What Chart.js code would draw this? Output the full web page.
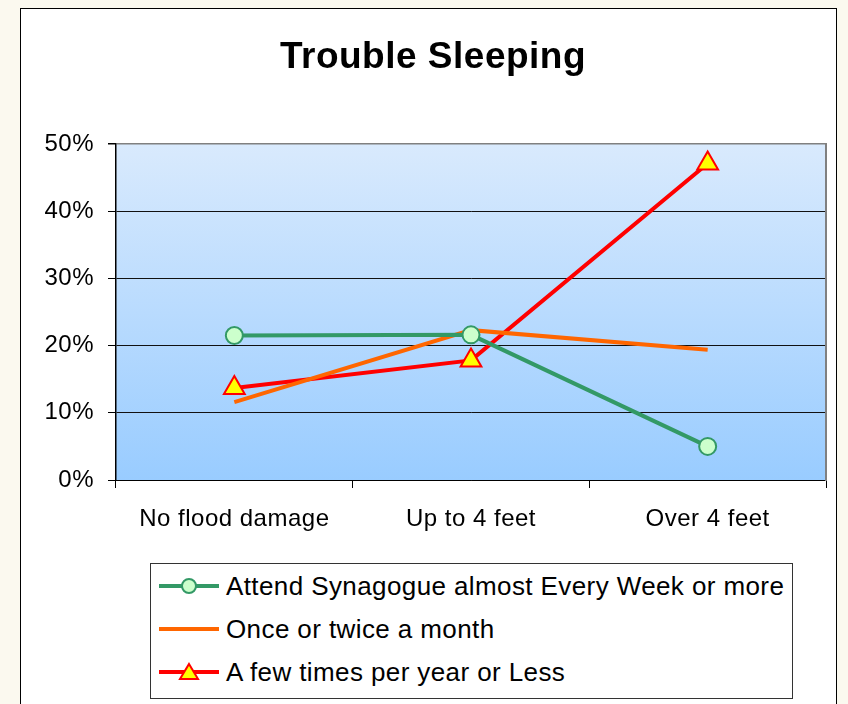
<!DOCTYPE html>
<html>
<head>
<meta charset="utf-8">
<script src="https://cdn.jsdelivr.net/npm/chart.js@4.4.1/dist/chart.umd.min.js"></script>
<style>
  html, body { margin: 0; padding: 0; }
  body { width: 848px; height: 704px; background: #fbf9ef; position: relative; overflow: hidden; font-family: "Liberation Sans", Arial, sans-serif; }
  #frame { position: absolute; left: 20px; top: 8px; width: 815px; height: 720px; background: #fff; border: 1px solid #000; }
  #wrap { position: absolute; left: 0; top: 0; width: 848px; height: 704px; }
  #legend { position: absolute; left: 150px; top: 563px; width: 641px; height: 134px; border: 1px solid #333; background: #fff; }
  .row { position: absolute; left: 0; height: 40px; }
  .row svg { position: absolute; left: 6px; top: 10px; }
  .row span { position: absolute; left: 75px; top: 5px; white-space: nowrap; font-size: 26px; letter-spacing: 0.4px; color: #000; line-height: 30px; }
</style>
</head>
<body>
<div id="frame"></div>
<div id="wrap"><canvas id="c" width="848" height="704"></canvas></div>
<div id="legend"></div>
<script>
const categories = ["No flood damage", "Up to 4 feet", "Over 4 feet"];
const seriesNames = ["Attend Synagogue almost Every Week or more", "Once or twice a month", "A few times per year or Less"];
const weeklyOrMore = [21.5, 21.6, 5.0];
const monthly = [11.6, 22.3, 19.4];
const yearlyOrLess = [13.7, 17.8, 47.1];
const yTicks = [0, 10, 20, 30, 40, 50];

const colors = { green: "#339966", greenFill: "#ccffcc", orange: "#ff6600", red: "#ff0000", yellow: "#ffff00" };

const bgPlugin = {
  id: "plotBg",
  beforeDraw(chart) {
    const { ctx, chartArea: a } = chart;
    ctx.letterSpacing = "0.5px";
    const g = ctx.createLinearGradient(0, a.top, 0, a.bottom);
    g.addColorStop(0, "#d9eafd");
    g.addColorStop(1, "#99ccff");
    ctx.save();
    ctx.fillStyle = g;
    ctx.fillRect(a.left, a.top, a.right - a.left, a.bottom - a.top);
    ctx.restore();
  }
};

const fontFam = "'Liberation Sans', Arial, sans-serif";

new Chart(document.getElementById("c"), {
  type: "line",
  data: {
    labels: categories,
    datasets: [
      { label: seriesNames[0], data: weeklyOrMore, borderColor: colors.green, borderWidth: 4, pointStyle: "circle", pointRadius: 8.5, pointBackgroundColor: colors.greenFill, pointBorderColor: colors.green, pointBorderWidth: 2, tension: 0 },
      { label: seriesNames[1], data: monthly, borderColor: colors.orange, borderWidth: 4, pointRadius: 0, tension: 0 },
      { label: seriesNames[2], data: yearlyOrLess, borderColor: colors.red, borderWidth: 4, pointStyle: "triangle", pointRadius: 12, pointBackgroundColor: colors.yellow, pointBorderColor: colors.red, pointBorderWidth: 2, tension: 0 }
    ]
  },
  options: {
    responsive: false,
    animation: false,
    layout: { padding: { left: 30, right: 12, top: 8, bottom: 164 } },
    plugins: {
      legend: { display: false },
      tooltip: { enabled: false },
      title: {
        display: true,
        text: "Trouble Sleeping",
        color: "#000",
        font: { family: fontFam, size: 37, weight: "bold", lineHeight: 1.2 },
        padding: { top: 27.8, bottom: 63.8 }
      }
    },
    scales: {
      x: {
        offset: true,
        grid: { display: true, drawOnChartArea: false, drawTicks: true, tickLength: 8, color: "#000", offset: true },
        border: { display: true, color: "#000", width: 1 },
        ticks: { color: "#000", font: { family: fontFam, size: 24 }, padding: 17, maxRotation: 0, autoSkip: false },
        afterFit(s) { s.height = 60; }
      },
      y: {
        min: 0, max: 50,
        afterBuildTicks(s) { s.ticks = yTicks.map(v => ({ value: v })); },
        grid: { color: (c) => c.tick && c.tick.value === 50 ? "#808080" : "#111", lineWidth: (c) => c.tick && c.tick.value === 50 ? 1.5 : 1, tickLength: 8, tickColor: "#000" },
        border: { display: true, color: "#000", width: 1.5 },
        ticks: { color: "#000", font: { family: fontFam, size: 24 }, padding: 14, callback: (v) => v + "%" },
        afterFit(s) { s.width = 86; }
      },
      y2: {
        position: "right",
        min: 0, max: 50,
        grid: { drawOnChartArea: false, drawTicks: false },
        border: { display: true, color: "#808080", width: 2 },
        ticks: { display: false },
        afterFit(s) { s.width = 10; }
      }
    }
  },
  plugins: [bgPlugin]
});

// Legend
const legendEl = document.getElementById("legend");
const rowsSvg = [
  `<svg width="64" height="20"><line x1="2" y1="10" x2="62" y2="10" stroke="${colors.green}" stroke-width="4"/><circle cx="32" cy="10" r="7" fill="${colors.greenFill}" stroke="${colors.green}" stroke-width="2"/></svg>`,
  `<svg width="64" height="20"><line x1="2" y1="10" x2="62" y2="10" stroke="${colors.orange}" stroke-width="4"/></svg>`,
  `<svg width="64" height="20"><line x1="2" y1="10" x2="62" y2="10" stroke="${colors.red}" stroke-width="4"/><polygon points="32,2 41,17 23,17" fill="${colors.yellow}" stroke="${colors.red}" stroke-width="2"/></svg>`
];
seriesNames.forEach((name, i) => {
  const r = document.createElement("div");
  r.className = "row";
  r.style.top = (2 + i * 43) + "px";
  r.innerHTML = rowsSvg[i] + `<span>${name}</span>`;
  legendEl.appendChild(r);
});
</script>
</body>
</html>
